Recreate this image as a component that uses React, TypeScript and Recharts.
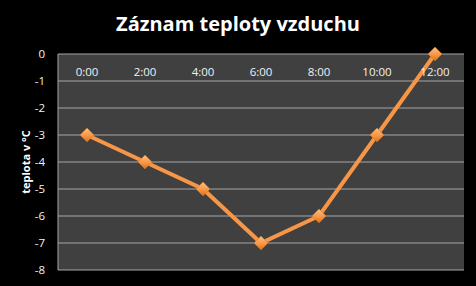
import { LineChart, Line, XAxis, YAxis, CartesianGrid } from 'recharts'

const hours = ['0:00', '2:00', '4:00', '6:00', '8:00', '10:00', '12:00']
const temps = [-3, -4, -5, -7, -6, -3, 0]
const yTicks = [0, -1, -2, -3, -4, -5, -6, -7, -8]

const data = hours.map((h, i) => ({ hour: h, temp: temps[i] }))

const Diamond = (props: any) => {
  const { cx, cy } = props
  if (cx == null || cy == null) return null
  const r = 7
  return (
    <path
      d={`M${cx},${cy - r} L${cx + r},${cy} L${cx},${cy + r} L${cx - r},${cy} Z`}
      fill="url(#diamondFill)"
      stroke="#d9741c"
      strokeWidth={0.5}
    />
  )
}

const HourTick = (props: any) => {
  const { x, y, payload } = props
  return (
    <text x={x} y={y} dy={22} textAnchor="middle" fill="#f2f2f2" fontSize={11.5} fontFamily="'Open Sans', sans-serif">
      {payload.value}
    </text>
  )
}

export default function App() {
  return (
    <div style={{ position: 'absolute', left: 0, top: 0, width: 476, height: 286, background: '#000' }}>
      <div
        style={{
          position: 'absolute',
          left: 0,
          top: 9,
          width: 476,
          textAlign: 'center',
          color: '#fff',
          fontFamily: "'Open Sans', sans-serif",
          fontWeight: 700,
          fontSize: 20,
          lineHeight: '30px',
        }}
      >
        Záznam teploty vzduchu
      </div>
      <LineChart width={476} height={286} data={data} margin={{ top: 34, right: 12, bottom: 16, left: 0 }}>
        <defs>
          <linearGradient id="diamondFill" x1="0" y1="0" x2="0" y2="1">
            <stop offset="0%" stopColor="#fcc080" />
            <stop offset="55%" stopColor="#f79646" />
            <stop offset="100%" stopColor="#d7721a" />
          </linearGradient>
        </defs>
        <CartesianGrid vertical={false} stroke="#a6a6a6" strokeWidth={1} fill="#404040" fillOpacity={1} />
        <XAxis
          dataKey="hour"
          orientation="top"
          height={20}
          axisLine={false}
          tickLine={false}
          tickSize={0}
          tickMargin={0}
          tick={<HourTick />}
          interval={0}
          padding={{ left: 29, right: 29 }}
        />
        <YAxis
          width={58}
          domain={[-8, 0]}
          ticks={yTicks}
          interval={0}
          axisLine={{ stroke: '#a6a6a6' }}
          tickLine={false}
          tickMargin={7}
          tick={{ fill: '#f2f2f2', fontSize: 11.5, fontFamily: "'Open Sans', sans-serif" }}
          label={{
            value: 'teplota v °C',
            angle: -90,
            position: 'insideLeft',
            offset: 26,
            style: { textAnchor: 'middle', fill: '#fff', fontWeight: 700, fontSize: 11, fontFamily: "'Open Sans', sans-serif" },
          }}
        />
        <Line
          type="linear"
          dataKey="temp"
          stroke="#f79646"
          strokeWidth={4}
          dot={<Diamond />}
          activeDot={false}
          isAnimationActive={false}
        />
      </LineChart>
    </div>
  )
}
